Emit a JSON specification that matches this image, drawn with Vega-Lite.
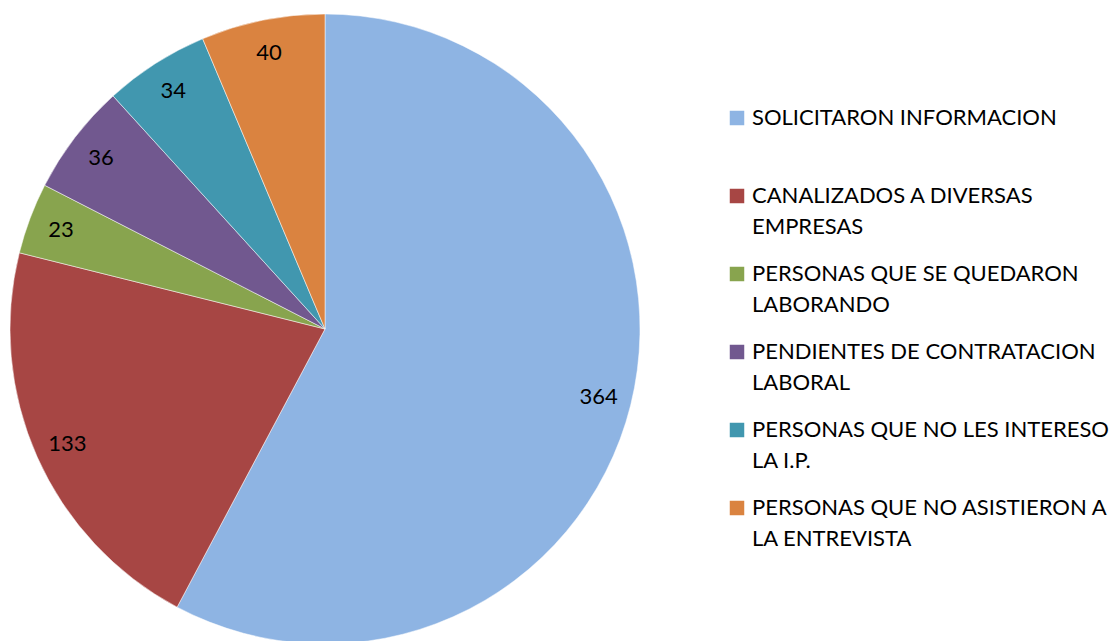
{
  "$schema": "https://vega.github.io/schema/vega-lite/v6.json",
  "width": 650,
  "height": 658,
  "autosize": {"type": "pad"},
  "padding": 0,
  "background": "white",
  "config": {
    "style": {"guide-label": {"lineHeight": 31}}
  },
  "data": {
    "values": [
      {"category": "SOLICITARON INFORMACION|", "value": 364, "order": 1},
      {"category": "CANALIZADOS A DIVERSAS|EMPRESAS", "value": 133, "order": 2},
      {"category": "PERSONAS QUE SE QUEDARON|LABORANDO", "value": 23, "order": 3},
      {"category": "PENDIENTES DE CONTRATACION|LABORAL", "value": 36, "order": 4},
      {"category": "PERSONAS QUE NO LES INTERESO|LA I.P.", "value": 34, "order": 5},
      {"category": "PERSONAS QUE NO ASISTIERON A|LA ENTREVISTA", "value": 40, "order": 6}
    ]
  },
  "encoding": {
    "theta": {"field": "value", "type": "quantitative", "stack": true},
    "order": {"field": "order", "type": "quantitative"}
  },
  "layer": [
    {
      "mark": {"type": "arc", "outerRadius": 315, "stroke": "white", "strokeWidth": 0.5},
      "encoding": {
        "color": {
          "field": "category",
          "type": "nominal",
          "sort": {"field": "order"},
          "scale": {
            "domain": [
              "SOLICITARON INFORMACION|",
              "CANALIZADOS A DIVERSAS|EMPRESAS",
              "PERSONAS QUE SE QUEDARON|LABORANDO",
              "PENDIENTES DE CONTRATACION|LABORAL",
              "PERSONAS QUE NO LES INTERESO|LA I.P.",
              "PERSONAS QUE NO ASISTIERON A|LA ENTREVISTA"
            ],
            "range": ["#8EB4E3", "#A74644", "#88A44E", "#71588F", "#4197AF", "#DA8340"]
          },
          "legend": {
            "orient": "none",
            "legendX": 726,
            "legendY": 107,
            "title": null,
            "symbolType": "square",
            "symbolSize": 210,
            "symbolStrokeWidth": 0,
            "labelFont": "Lato",
            "labelFontSize": 22,
            "labelColor": "#000000",
            "labelLimit": 420,
            "labelOffset": 4,
            "labelBaseline": "middle",
            "rowPadding": 25,
            "labelExpr": "split(datum.label, '|')"
          }
        }
      }
    },
    {
      "mark": {"type": "text", "radius": 282, "font": "Lato", "fontSize": 22, "color": "#000000"},
      "encoding": {
        "text": {"field": "value", "type": "quantitative"}
      }
    }
  ]
}
